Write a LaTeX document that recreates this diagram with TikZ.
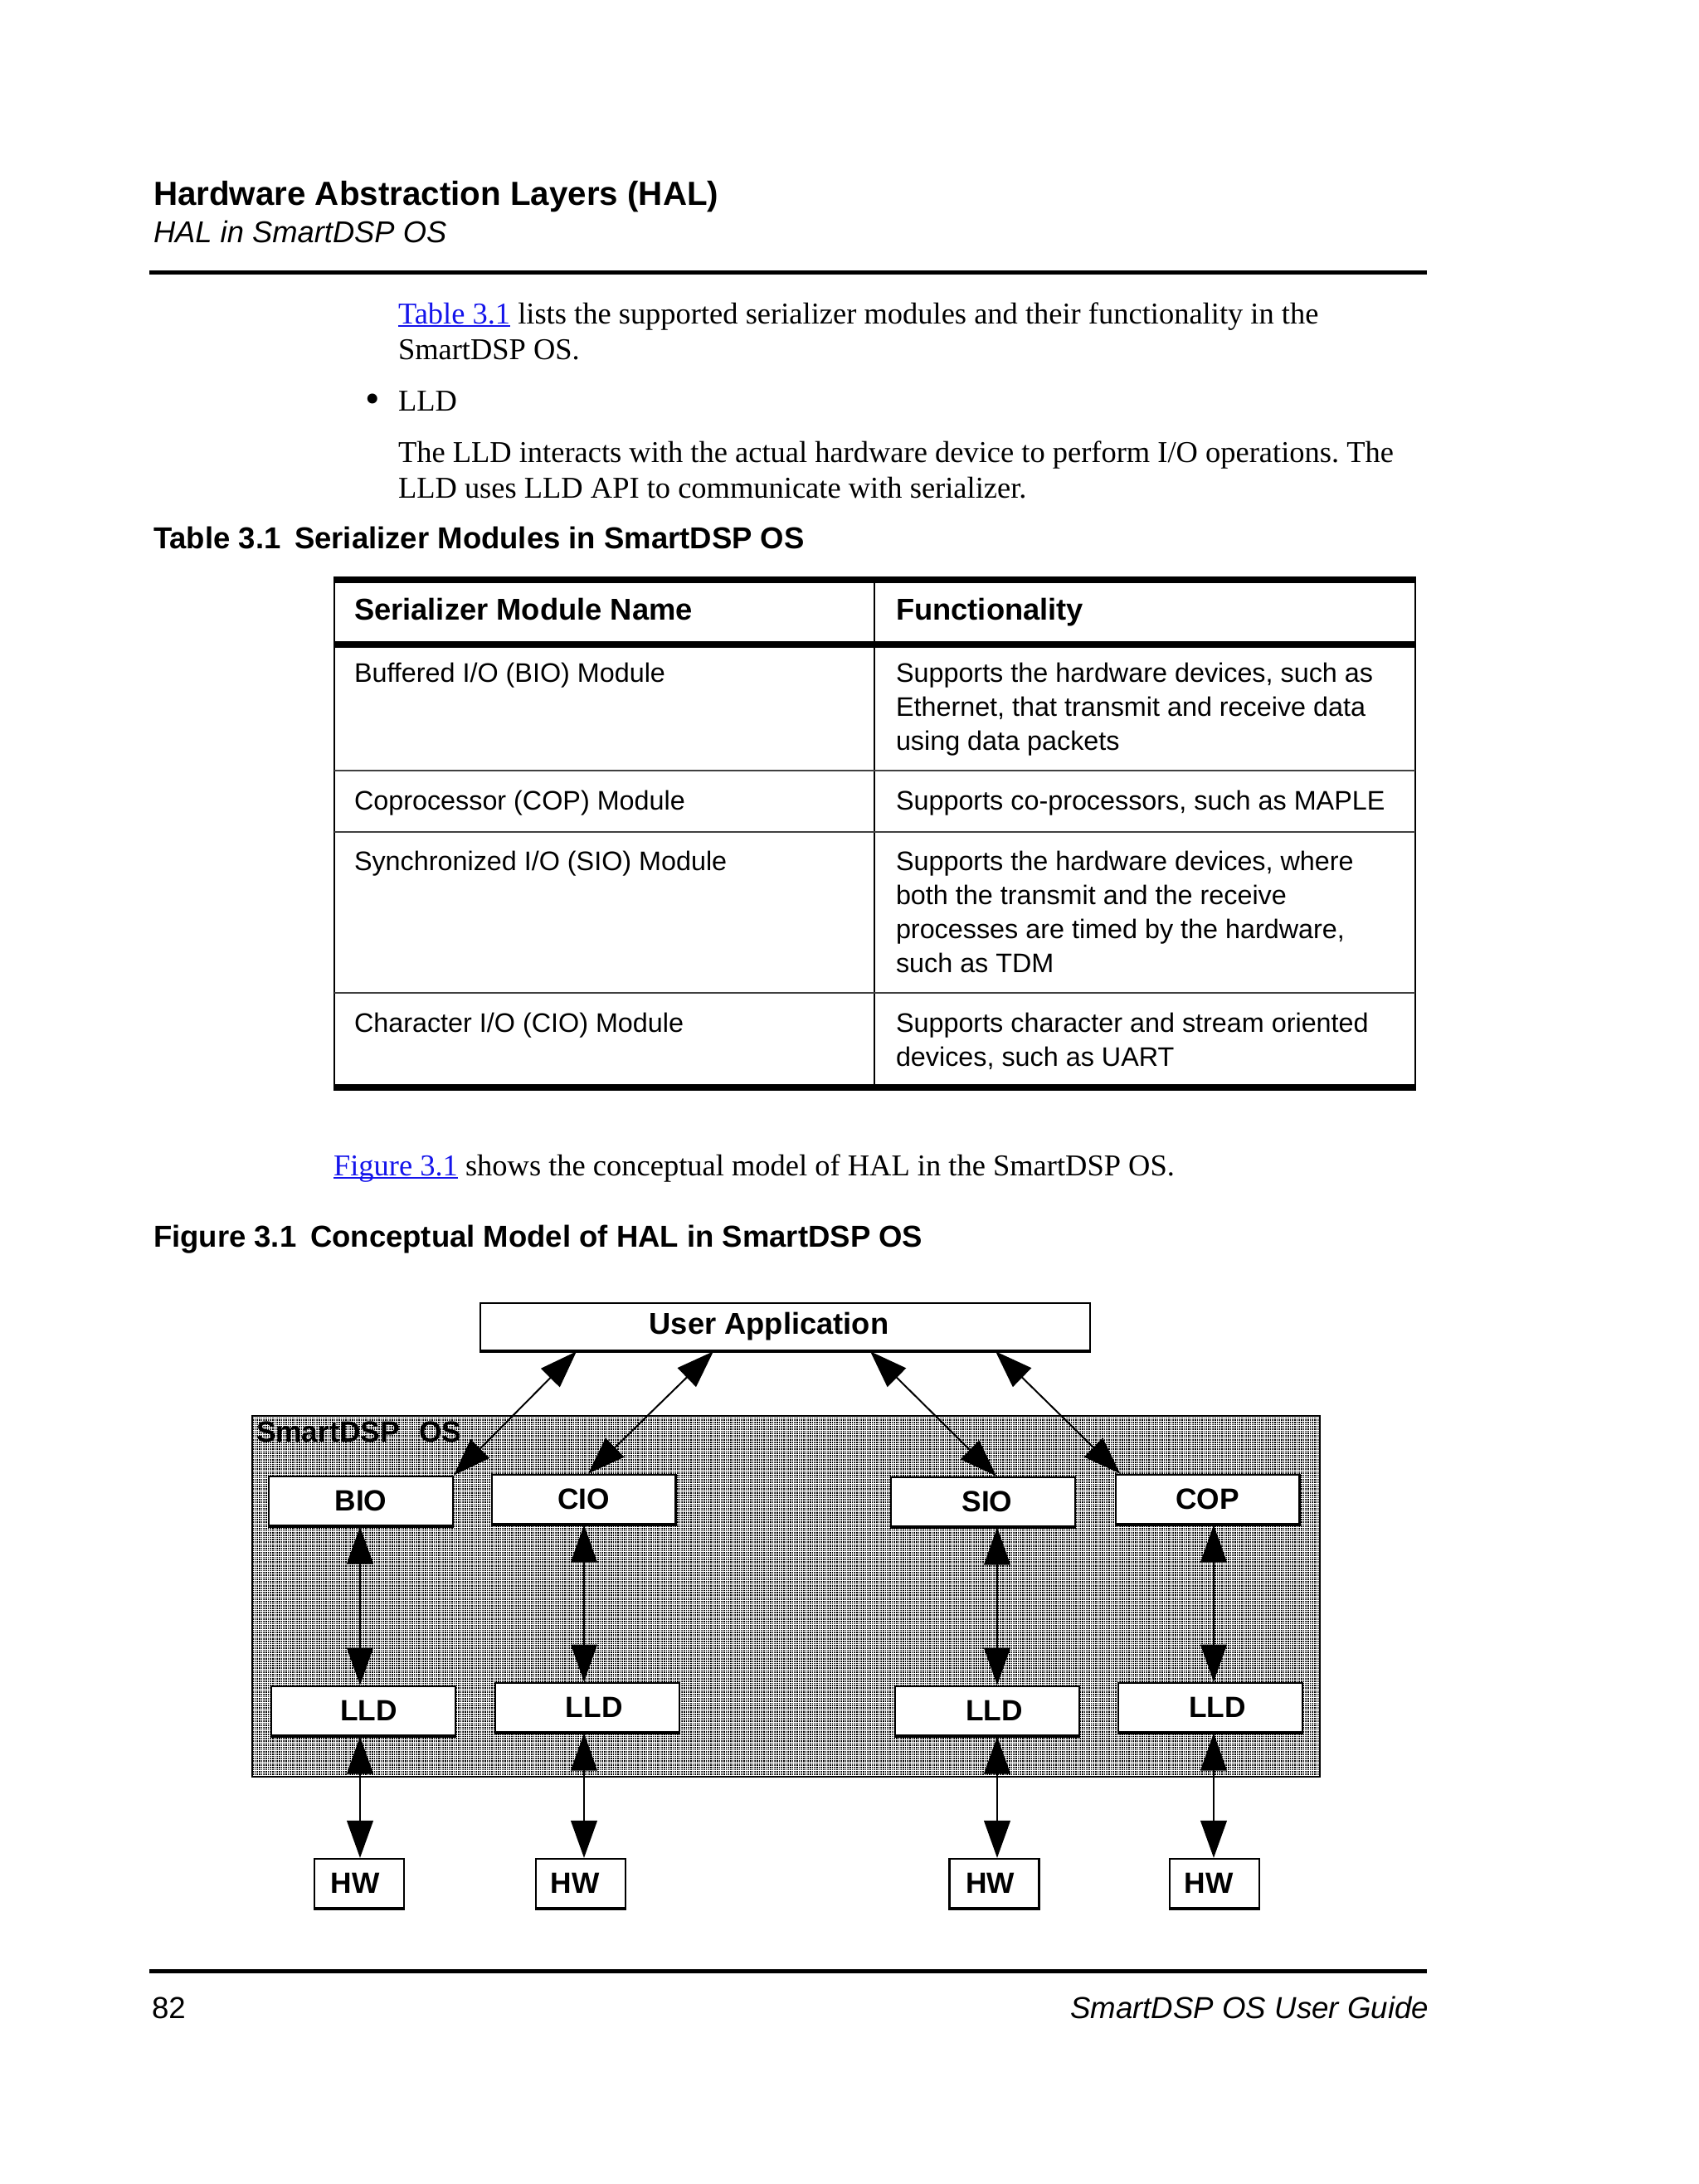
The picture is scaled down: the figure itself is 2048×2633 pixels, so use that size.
\documentclass[tikz,border=0pt]{standalone}
\usepackage{fontspec}
\setmainfont{Liberation Serif}
\setsansfont{Liberation Sans}
\usetikzlibrary{arrows.meta,patterns}
\definecolor{linkblue}{RGB}{20,20,235}
\newcommand\lnk[1]{\textcolor{linkblue}{\setbox0\hbox{#1}\rlap{\rule[-1.1pt]{\wd0}{0.5pt}}\box0}}
\pgfdeclarepatternformonly{osdots}{\pgfqpoint{0pt}{0pt}}{\pgfqpoint{0.6pt}{0.6pt}}{\pgfqpoint{0.8pt}{0.8pt}}{\pgfpathrectangle{\pgfqpoint{0pt}{0pt}}{\pgfqpoint{0.5pt}{0.5pt}}\pgfusepath{fill}}
\frenchspacing
\begin{document}
\begin{tikzpicture}[x=0.3pt,y=-0.3pt,
  txt/.style={anchor=base west, inner sep=0pt, outer sep=0pt},
  body/.style={txt, font=\fontsize{10.94}{12.9}\selectfont\frenchspacing},
  cell/.style={txt, font=\sffamily\fontsize{9.7}{12.3}\selectfont},
  cellhead/.style={txt, font=\sffamily\bfseries\fontsize{10.9}{13}\selectfont},
  capt/.style={txt, font=\sffamily\bfseries\fontsize{10.95}{13}\selectfont},
  blk/.style={draw, fill=white, line width=0.7pt, inner sep=0pt,
    font=\sffamily\bfseries\fontsize{10.6}{12}\selectfont},
  modbox/.style={blk, minimum width=66.5pt, minimum height=17.9pt},
  hwbox/.style={blk, minimum width=32.4pt, minimum height=17.7pt},
  arr/.style={line width=0.6pt, {Triangle[length=13.5pt,width=9.5pt]}-{Triangle[length=13.5pt,width=9.5pt]}},
  thickrule/.style={line width=2.4pt},
  thinrule/.style={line width=0.6pt, black!75},
  pagerule/.style={line width=1.45pt}]
\useasboundingbox[fill=white] (0,0) rectangle (2048,2633);

% ---------- page header ----------
\node[txt, font=\sffamily\bfseries\fontsize{12.1}{14}\selectfont] (h1) at (185,247) {Hardware Abstraction Layers (HAL)};
\node[txt, font=\sffamily\itshape\fontsize{10.9}{13}\selectfont] (h2) at (185,292) {HAL in SmartDSP OS};
\coordinate (hrl) at (180,328.5);
\coordinate (hrr) at (1720,328.5);
\draw[pagerule] (hrl) -- (hrr);

% ---------- body text ----------
\node[body] (p1) at (480,390) {\lnk{Table 3.1} lists the supported serializer modules and their functionality in the};
\node[body] (p2) at (480,433) {SmartDSP OS.};
\node[txt, font=\fontsize{15}{15}\selectfont] (pb) at (440,497) {•};
\node[body] (p3) at (480,495) {LLD};
\node[body] (p4) at (480,557) {The LLD interacts with the actual hardware device to perform I/O operations. The};
\node[body] (p5) at (480,600) {LLD uses LLD API to communicate with serializer.};
\node[capt] (tcap) at (185,661) {Table 3.1\hspace{5pt}Serializer Modules in SmartDSP OS};

% ---------- table ----------
\draw[line width=0.6pt] (403,699) -- (403,1311);
\draw[line width=0.6pt] (1054,699) -- (1054,1311);
\draw[line width=0.6pt] (1706,699) -- (1706,1311);
\draw[thickrule] (402,699) -- (1707,699);
\draw[thickrule] (402,777) -- (1707,777);
\draw[thinrule] (403,929) -- (1706,929);
\draw[thinrule] (403,1003) -- (1706,1003);
\draw[thinrule] (403,1197) -- (1706,1197);
\draw[thickrule] (402,1311) -- (1707,1311);

\node[cellhead] (th1) at (427,747) {Serializer Module Name};
\node[cellhead] (th2) at (1080,747) {Functionality};

\node[cell] (r1a) at (427,822) {Buffered I/O (BIO) Module};
\node[cell] (r1b) at (1080,822) {Supports the hardware devices, such as};
\node[cell] (r1c) at (1080,863) {Ethernet, that transmit and receive data};
\node[cell] (r1d) at (1080,904) {using data packets};

\node[cell] (r2a) at (427,976) {Coprocessor (COP) Module};
\node[cell] (r2b) at (1080,976) {Supports co-processors, such as MAPLE};

\node[cell] (r3a) at (427,1049) {Synchronized I/O (SIO) Module};
\node[cell] (r3b) at (1080,1049) {Supports the hardware devices, where};
\node[cell] (r3c) at (1080,1090) {both the transmit and the receive};
\node[cell] (r3d) at (1080,1131) {processes are timed by the hardware,};
\node[cell] (r3e) at (1080,1172) {such as TDM};

\node[cell] (r4a) at (427,1244) {Character I/O (CIO) Module};
\node[cell] (r4b) at (1080,1244) {Supports character and stream oriented};
\node[cell] (r4c) at (1080,1285) {devices, such as UART};

\node[body] (p6) at (402,1417) {\lnk{Figure 3.1} shows the conceptual model of HAL in the SmartDSP OS.};
\node[capt] (fcap) at (185,1503) {Figure 3.1\hspace{5pt}Conceptual Model of HAL in SmartDSP OS};

% ---------- figure ----------
\node[draw, line width=0.7pt, preaction={fill=white}, pattern=osdots, pattern color=black,
      minimum width=386.1pt, minimum height=130.5pt, inner sep=0pt] (os) at (947.5,1924.5) {};
\node[txt, font=\sffamily\bfseries\fontsize{10.6}{12}\selectfont] (oslabel) at (309,1738) {SmartDSP\hspace{7pt}OS};

\node[blk, minimum width=220.5pt, minimum height=17.1pt, font=\sffamily\bfseries\fontsize{10.9}{12}\selectfont] (ua) at (946.5,1599.5) {User Application\kern11.7pt};

\node[modbox] (bio) at (435,1809.5) {BIO};
\node[modbox] (cio) at (703.5,1807.5) {CIO};
\node[modbox] (sio) at (1185,1810.5) {\kern3pt SIO};
\node[modbox] (cop) at (1455.5,1807.5) {COP};

\node[modbox] (lldb) at (438,2062.5) {\kern4pt LLD};
\node[modbox] (lldc) at (708,2058.5) {\kern5pt LLD};
\node[modbox] (llds) at (1190,2062.5) {\kern5pt LLD};
\node[modbox] (lldp) at (1459,2058.5) {\kern5pt LLD};

\node[hwbox] (hw1) at (433,2270.5) {HW\kern3pt};
\node[hwbox] (hw2) at (700,2270.5) {HW\kern4pt};
\node[hwbox] (hw3) at (1198.5,2270.5) {HW\kern3pt};
\node[hwbox] (hw4) at (1464,2270.5) {HW\kern4pt};

\foreach \n in {ua,bio,cio,sio,cop,lldb,lldc,llds,lldp,hw1,hw2,hw3,hw4}
  \draw[line width=1.1pt] (\n.south west) -- (\n.south east);

% columns for the vertical connectors
\coordinate (c1) at (434,0);
\coordinate (c2) at (704,0);
\coordinate (c3) at (1202,0);
\coordinate (c4) at (1463,0);
% attachment points on the user application box
\coordinate (u1) at (695,0);
\coordinate (u2) at (860,0);
\coordinate (u3) at (1049,0);
\coordinate (u4) at (1200,0);
\coordinate (b2) at (709,0);
\coordinate (b3) at (1201,0);

\draw[arr] (ua.south -| u1) -- (bio.north east);
\draw[arr] (ua.south -| u2) -- (cio.north -| b2);
\draw[arr] (ua.south -| u3) -- (sio.north -| b3);
\draw[arr] (ua.south -| u4) -- ([xshift=2pt]cop.north west);

\draw[arr] (bio.south -| c1) -- (lldb.north -| c1);
\draw[arr] (cio.south -| c2) -- (lldc.north -| c2);
\draw[arr] (sio.south -| c3) -- (llds.north -| c3);
\draw[arr] (cop.south -| c4) -- (lldp.north -| c4);

\draw[arr] (lldb.south -| c1) -- (hw1.north -| c1);
\draw[arr] (lldc.south -| c2) -- (hw2.north -| c2);
\draw[arr] (llds.south -| c3) -- (hw3.north -| c3);
\draw[arr] (lldp.south -| c4) -- (hw4.north -| c4);

% ---------- page footer ----------
\coordinate (frl) at (180,2376.5);
\coordinate (frr) at (1720,2376.5);
\draw[pagerule] (frl) -- (frr);
\node[txt, font=\sffamily\fontsize{11}{13}\selectfont] (pg) at (183,2433) {82};
\node[txt, anchor=base east, font=\sffamily\itshape\fontsize{11}{13}\selectfont] (guide) at (1722,2433) {SmartDSP OS User Guide};
\end{tikzpicture}
\end{document}
